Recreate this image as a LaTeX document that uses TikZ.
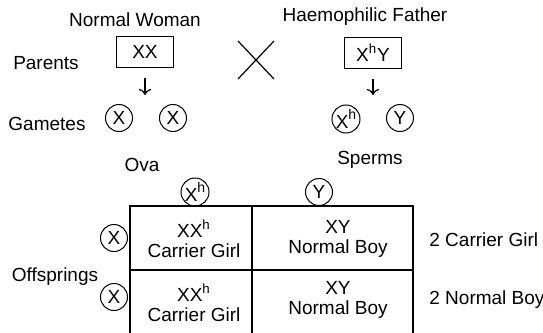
\documentclass[tikz,border=0pt]{standalone}
\usepackage{fontspec}
\setmainfont{Liberation Sans}
\usepackage{tikz}
\usetikzlibrary{arrows.meta}

\tikzset{
    lbl/.style={inner sep=0pt, font=\fontsize{9.5}{11}\selectfont},
    genbox/.style={draw, line width=0.6pt, minimum width=28.5pt, minimum height=15.5pt, inner sep=0pt, font=\fontsize{9.5}{11}\selectfont},
    gam/.style={draw, circle, line width=0.5pt, minimum size=13.5pt, inner sep=0pt, font=\fontsize{9.5}{11}\selectfont},
    cell/.style={align=center, inner sep=0pt, font=\fontsize{9.5}{10}\selectfont},
}

\begin{document}
\begin{tikzpicture}[x=0.5pt, y=-0.5pt]
        \useasboundingbox (0,0) rectangle (543,333);
        % parents
        \node[lbl] (woman) at (135,20) {Normal Woman};
        \node[lbl] (father) at (365,17) {Haemophilic Father};
        \node[lbl] (parents) at (46,63) {Parents};
        \node[genbox] (pw) at (145,52) {XX};
        \node[genbox] (pf) at (373,53) {X\textsuperscript{h}Y};
        % cross between the two parents
        \draw[line width=0.6pt] (238,41) -- (274,79) (274,41) -- (238,79);
        % gametes
        \node[lbl] (gametes) at (47,124) {Gametes};
        \node[gam] (o1) at (119,118) {X};
        \node[gam] (o2) at (173,118) {X};
        \node[gam] (s1) at (346,119) {\raisebox{-2.5pt}{X}\raisebox{2pt}{\scriptsize h}};
        \node[gam] (s2) at (400,118) {Y};
        \coordinate (og) at (145,118);
        \coordinate (sg) at (373,118);
        \draw[-{To[length=3pt]}, line width=0.6pt, shorten <=5pt, shorten >=11.5pt] (pw) ++(0,15.5) -- (og);
        \draw[-{To[length=3pt]}, line width=0.6pt, shorten <=5pt, shorten >=11.5pt] (pf) ++(0,16) -- (sg);
        \node[lbl] (ova) at (142,165) {Ova};
        \node[lbl] (sperms) at (370,160) {Sperms};
        % checker board
        \draw[line width=0.6pt] (130,340) |- (413,206) -- (413,340);
        \draw[line width=0.6pt] (130,270) -- (413,270);
        \draw[line width=0.6pt] (252,206) -- (252,340);
        \node[gam] (ts1) at (195,192) {\raisebox{-2.5pt}{X}\raisebox{2pt}{\scriptsize h}};
        \node[gam] (ts2) at (319,192) {Y};
        \node[gam] (lo1) at (114,238) {X};
        \node[gam] (lo2) at (114,297) {X};
        \node[lbl] (offs) at (55,277) {Offsprings};
        \node[cell] (c11) at (194,239) {XX\textsuperscript{h}\\Carrier Girl};
        \node[cell] (c12) at (338,239) {XY\\Normal Boy};
        \node[cell] (c21) at (194,303) {XX\textsuperscript{h}\\Carrier Girl};
        \node[cell] (c22) at (338,300) {XY\\Normal Boy};
        % ratio
        \node[lbl, anchor=west] (r1) at (429,240) {2 Carrier Girl};
        \node[lbl, anchor=west] (r2) at (429,300) {2 Normal Boy};
    \end{tikzpicture}
\end{document}
